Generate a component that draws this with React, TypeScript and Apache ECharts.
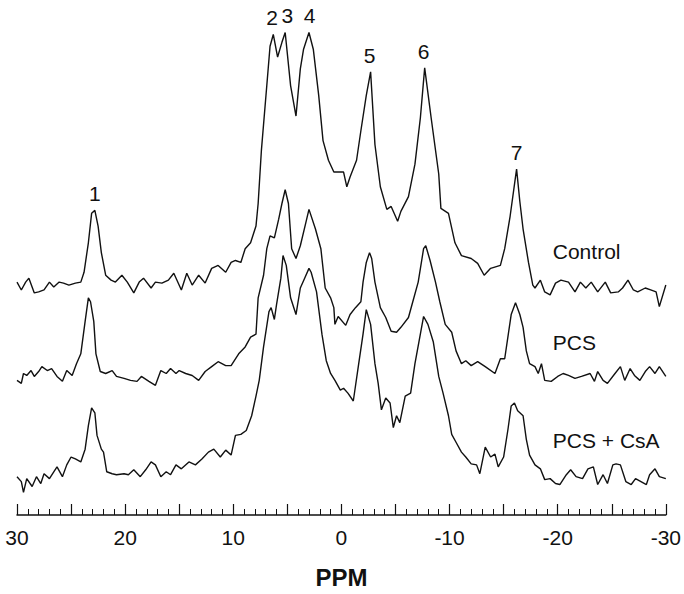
import React, { useEffect, useRef } from 'react';
import * as echarts from 'echarts';

// [ppm, intensity relative to trace baseline]
const controlData: [number, number][] = [
  [30.0, 5], [29.6, -3], [29.2, 5], [28.9, 9], [28.4, -6], [28.0, -5], [27.5, -3], [27.0, 5], [26.6, 0], [26.1, 5],
  [25.7, 4], [25.2, 2], [24.6, 4], [24.1, 5], [23.8, 15], [23.4, 45], [23.1, 75], [22.8, 78], [22.5, 62], [22.2, 35],
  [21.8, 12], [21.3, 7], [20.9, 5], [20.3, 12], [19.8, 5], [19.2, -6], [18.7, 5], [18.3, 9], [17.6, -1], [17.2, 5],
  [16.6, 4], [16.0, 7], [15.5, 14], [14.8, -3], [14.3, 14], [13.8, 2], [13.2, 12], [12.6, 4], [12.0, 19], [11.4, 22],
  [10.7, 15], [10.2, 25], [9.8, 27], [9.3, 25], [8.9, 39], [8.4, 45], [7.9, 62], [7.7, 85], [7.4, 139], [6.9, 205],
  [6.6, 245], [6.3, 257], [5.9, 234], [5.5, 249], [5.2, 259], [4.7, 205], [4.2, 174], [3.8, 222], [3.5, 242], [3.0, 259],
  [2.6, 242], [2.1, 195], [1.7, 149], [1.2, 129], [0.7, 117], [0.3, 117], [-0.2, 117], [-0.5, 102], [-0.8, 112], [-1.4, 129],
  [-1.8, 159], [-2.3, 195], [-2.7, 219], [-3.1, 145], [-3.6, 102], [-4.2, 79], [-4.6, 82], [-5.2, 67], [-5.5, 77], [-6.2, 92],
  [-6.8, 125], [-7.3, 172], [-7.7, 223], [-8.3, 172], [-9.0, 115], [-9.2, 80], [-9.9, 75], [-10.5, 45], [-11.1, 32], [-12.0, 29],
  [-12.6, 24], [-13.2, 12], [-13.8, 19], [-14.7, 22], [-15.1, 39], [-15.6, 72], [-16.1, 112], [-16.2, 120], [-16.5, 87], [-16.8, 59],
  [-17.3, 25], [-17.7, 2], [-17.9, -1], [-18.4, 7], [-18.8, -5], [-19.3, -8], [-19.8, 4], [-20.3, 7], [-21.0, 5], [-21.6, -5],
  [-22.1, 5], [-22.6, -1], [-23.1, 5], [-23.7, -5], [-24.4, 5], [-24.9, -6], [-25.6, -5], [-26.0, -1], [-26.5, 7], [-27.0, -3],
  [-27.4, -5], [-28.1, -1], [-28.6, -3], [-29.1, -5], [-29.4, -20], [-30.0, 2],
];

const pcsData: [number, number][] = [
  [30.0, -5], [29.6, -8], [29.4, 2], [29.1, 0], [28.7, 5], [28.4, -1], [28.0, 4], [27.7, 9], [27.2, 5], [26.8, 7],
  [26.3, -1], [25.8, -6], [25.4, 5], [24.9, 0], [24.5, 12], [24.1, 22], [23.7, 55], [23.4, 79], [23.2, 75], [22.9, 55],
  [22.7, 22], [22.3, 4], [21.8, 2], [21.2, 5], [20.8, -1], [20.1, -3], [19.5, -5], [18.9, -6], [18.5, -1], [17.8, -6],
  [17.2, -10], [16.7, 5], [16.2, 2], [15.8, 7], [15.3, 2], [15.0, 5], [14.4, 2], [13.8, 0], [13.2, -5], [12.6, 4],
  [12.0, 9], [11.4, 14], [10.7, 10], [10.2, 10], [9.5, 22], [8.9, 29], [8.4, 39], [7.9, 42], [7.7, 79], [7.2, 102],
  [6.9, 129], [6.6, 142], [6.2, 140], [5.8, 159], [5.5, 175], [5.2, 189], [4.9, 175], [4.6, 129], [4.2, 119], [3.8, 132],
  [3.3, 155], [3.0, 169], [2.4, 149], [1.9, 129], [1.5, 89], [1.0, 79], [0.7, 69], [0.6, 52], [0.3, 60], [-0.4, 51],
  [-0.8, 62], [-1.3, 69], [-1.8, 75], [-2.0, 95], [-2.3, 115], [-2.6, 125], [-2.8, 119], [-3.1, 95], [-3.6, 69], [-4.1, 59],
  [-4.6, 45], [-5.1, 44], [-5.5, 49], [-6.2, 59], [-6.6, 75], [-7.1, 95], [-7.6, 129], [-7.8, 132], [-8.2, 117], [-8.7, 95],
  [-9.1, 75], [-9.6, 52], [-10.2, 44], [-10.6, 25], [-11.1, 12], [-11.5, 15], [-12.0, 10], [-12.6, 14], [-13.3, 9], [-14.2, 2],
  [-14.7, 17], [-15.1, 17], [-15.7, 62], [-16.1, 74], [-16.5, 62], [-16.8, 49], [-17.1, 25], [-17.4, 12], [-17.9, 9], [-18.2, 2],
  [-18.5, 12], [-18.8, -5], [-19.4, -6], [-20.0, -1], [-20.5, 2], [-21.0, 0], [-21.6, -3], [-22.2, -1], [-23.0, 2], [-23.4, -6],
  [-23.7, 4], [-24.2, -5], [-24.6, -8], [-25.3, 2], [-25.8, 9], [-26.2, -5], [-26.7, 7], [-27.1, 0], [-27.6, -5], [-28.1, 4],
  [-28.5, 9], [-29.0, 2], [-29.4, 9], [-30.0, -1],
];

const csaData: [number, number][] = [
  [30.0, 2], [29.6, -3], [29.4, -14], [29.1, 0], [28.6, -8], [28.2, 2], [27.8, -5], [27.5, 5], [27.0, 0], [26.6, 7],
  [26.3, 12], [25.8, 2], [25.4, 14], [25.0, 22], [24.6, 20], [24.1, 17], [23.7, 30], [23.4, 54], [23.1, 72], [22.8, 67],
  [22.6, 44], [22.2, 30], [22.0, 27], [21.7, 7], [21.2, 5], [20.8, 4], [20.1, 5], [19.7, 4], [19.2, 9], [18.6, 2],
  [18.1, 9], [17.6, 17], [17.2, 14], [16.7, 2], [16.2, 7], [15.8, 4], [15.3, 14], [14.8, 10], [14.1, 17], [13.5, 14],
  [12.9, 20], [12.3, 27], [11.8, 30], [11.2, 22], [10.7, 29], [10.2, 24], [9.8, 44], [9.3, 45], [8.8, 49], [8.3, 64],
  [7.9, 84], [7.6, 100], [7.2, 134], [6.7, 170], [6.5, 174], [6.2, 162], [6.0, 177], [5.6, 204], [5.4, 227], [5.1, 217],
  [4.7, 184], [4.2, 167], [3.8, 194], [3.4, 204], [3.0, 214], [2.8, 210], [2.3, 190], [1.8, 147], [1.4, 120], [1.0, 107],
  [0.6, 100], [0.1, 90], [-0.2, 92], [-0.6, 87], [-1.1, 79], [-1.6, 117], [-2.0, 147], [-2.3, 172], [-2.7, 157], [-3.1, 117],
  [-3.4, 97], [-3.7, 70], [-4.1, 82], [-4.5, 77], [-4.8, 52], [-5.1, 64], [-5.4, 57], [-5.9, 84], [-6.4, 87], [-6.8, 117],
  [-7.3, 147], [-7.6, 165], [-8.0, 157], [-8.5, 139], [-9.0, 104], [-9.4, 87], [-9.9, 64], [-10.2, 45], [-10.6, 37], [-11.1, 27],
  [-11.5, 22], [-12.0, 15], [-12.5, 14], [-12.8, 5], [-13.3, 32], [-13.8, 22], [-14.2, 25], [-14.5, 12], [-15.0, 22], [-15.4, 50],
  [-15.7, 74], [-16.0, 77], [-16.3, 69], [-16.8, 64], [-17.1, 40], [-17.4, 24], [-17.9, 14], [-18.4, 10], [-18.8, -1], [-19.3, 0],
  [-19.8, -5], [-20.2, -6], [-20.8, 4], [-21.2, 9], [-21.7, 2], [-22.3, 0], [-22.8, 10], [-23.3, 12], [-23.7, -6], [-24.2, 4],
  [-24.6, -5], [-25.1, 14], [-25.4, 15], [-25.8, 14], [-26.3, -3], [-26.8, -6], [-27.2, 0], [-27.7, -3], [-28.2, -6], [-28.5, 4],
  [-29.0, 10], [-29.4, 2], [-30.0, 0],
];

const traceNames = ['Control', 'PCS', 'PCS + CsA'];
const traceOffsets = [232, 142, 37];
const traceNameLevels = [36, 34, 39];
const traceNamePpm = -19.5;

const peakLabels = ['1', '2', '3', '4', '5', '6', '7'];
const peakPpm = [22.8, 6.4, 5.0, 2.95, -2.6, -7.6, -16.2];

const xTickLabels = [30, 20, 10, 0, -10, -20, -30];

export default function App() {
  const ref = useRef<HTMLDivElement>(null);
  useEffect(() => {
    const chart = echarts.init(ref.current!, null, { renderer: 'svg' });
    const font = '"Liberation Sans", Arial, Helvetica, sans-serif';
    const traces = [controlData, pcsData, csaData];

    const peakMarks = peakLabels.map((lab, k) => {
      const near = controlData.filter(([p]) => Math.abs(p - peakPpm[k]) <= 0.5);
      const top = Math.max(...near.map(([, v]) => v)) + traceOffsets[0];
      return {
        coord: [peakPpm[k], top + 17],
        value: lab,
        label: { show: true, formatter: lab, position: 'inside', fontSize: 21, color: '#111', fontFamily: font },
      };
    });

    const series = traces.map((d, i) => {
      const marks: any[] = [
        {
          coord: [traceNamePpm, traceOffsets[i] + traceNameLevels[i]],
          value: traceNames[i],
          label: {
            show: true, formatter: traceNames[i], position: 'right', distance: 0,
            fontSize: 21, color: '#111', fontFamily: font,
          },
        },
      ];
      if (i === 0) marks.push(...peakMarks);
      return {
        type: 'line',
        name: traceNames[i],
        data: d.map(([p, v]) => [p, v + traceOffsets[i]]),
        showSymbol: false,
        symbol: 'none',
        silent: true,
        clip: false,
        lineStyle: { color: '#111', width: 1.4 },
        markPoint: {
          symbol: 'circle',
          symbolSize: 1,
          itemStyle: { color: 'rgba(0,0,0,0)' },
          silent: true,
          data: marks,
        },
      };
    });

    chart.setOption({
      animation: false,
      backgroundColor: '#fff',
      grid: { left: 17, right: 16, top: 4, bottom: 70, containLabel: false },
      xAxis: {
        type: 'value',
        min: -30,
        max: 30,
        interval: 5,
        inverse: true,
        axisLine: { show: true, onZero: false, lineStyle: { color: '#111', width: 1.5 } },
        axisTick: { show: true, inside: true, length: 11, lineStyle: { color: '#111', width: 1.2 } },
        minorTick: { show: true, splitNumber: 5, length: 6, lineStyle: { color: '#111', width: 1 } },
        splitLine: { show: false },
        minorSplitLine: { show: false },
        axisLabel: {
          formatter: (v: number) => (xTickLabels.includes(v) ? String(v) : ''),
          fontSize: 21,
          color: '#111',
          fontFamily: font,
          margin: 12,
          showMinLabel: true,
          showMaxLabel: true,
          hideOverlap: false,
        },
        name: 'PPM',
        nameLocation: 'middle',
        nameGap: 50,
        nameTextStyle: { fontSize: 24, fontWeight: 'bold', color: '#111', fontFamily: font },
      },
      yAxis: { type: 'value', min: 0, max: 520, show: false },
      series,
    });
    return () => chart.dispose();
  }, []);
  return (
    <div
      ref={ref}
      style={{ position: 'fixed', left: 0, top: 0, width: 684, height: 594, background: '#fff' }}
    />
  );
}
